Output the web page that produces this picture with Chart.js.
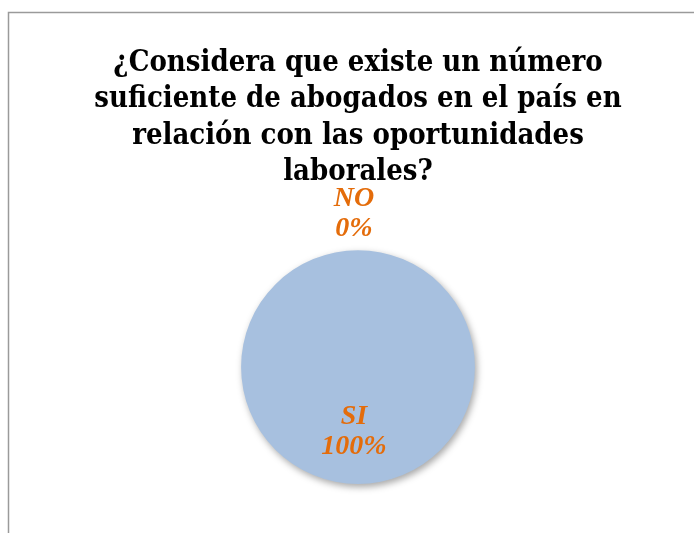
<!DOCTYPE html>
<html>
<head>
<meta charset="utf-8">
<script src="https://cdn.jsdelivr.net/npm/chart.js@4"></script>
<style>
  html, body { margin: 0; padding: 0; background: #fff; }
  #wrap { width: 694px; height: 533px; }
</style>
</head>
<body>
<div id="wrap"><canvas id="pieChart"></canvas></div>
<script>
const categories = ['SI', 'NO'];
const values = [100, 0];
const titleLines = [
  '¿Considera que existe un número',
  'suficiente de abogados en el país en',
  'relación con las oportunidades',
  'laborales?'
];

// gray frame on the left and top edges
const framePlugin = {
  id: 'frame',
  beforeDraw(chart) {
    const ctx = chart.ctx;
    ctx.save();
    ctx.strokeStyle = '#9a9a9a';
    ctx.lineWidth = 1.5;
    ctx.beginPath();
    ctx.moveTo(8.5, chart.height);
    ctx.lineTo(8.5, 12.5);
    ctx.lineTo(chart.width, 12.5);
    ctx.stroke();
    ctx.restore();
  }
};

// soft drop shadow under the pie
const shadowPlugin = {
  id: 'pieShadow',
  beforeDatasetsDraw(chart) {
    const ctx = chart.ctx;
    ctx.save();
    ctx.shadowColor = 'rgba(0,0,0,0.35)';
    ctx.shadowBlur = 7;
    ctx.shadowOffsetX = 2;
    ctx.shadowOffsetY = 3;
  },
  afterDatasetsDraw(chart) {
    chart.ctx.restore();
  }
};

// category name + percentage, inside for big slices, outside for empty ones
const labelPlugin = {
  id: 'sliceLabels',
  afterDatasetsDraw(chart) {
    const ctx = chart.ctx;
    const meta = chart.getDatasetMeta(0);
    const total = values.reduce((a, b) => a + b, 0);
    ctx.save();
    ctx.fillStyle = '#e46c0a';
    ctx.font = 'italic bold 28px "Liberation Serif", "DejaVu Serif", serif';
    ctx.textAlign = 'center';
    ctx.textBaseline = 'middle';
    meta.data.forEach((arc, i) => {
      const p = arc.getProps(['x', 'y', 'startAngle', 'endAngle', 'outerRadius'], true);
      const mid = (p.startAngle + p.endAngle) / 2;
      const k = values[i] > 0 ? 0.55 : 1.31;
      const cx = p.x + Math.cos(mid) * p.outerRadius * k - 4;
      const cy = p.y + Math.sin(mid) * p.outerRadius * k;
      const pct = Math.round(values[i] / total * 100) + '%';
      ctx.fillText(categories[i], cx, cy - 15);
      ctx.fillText(pct, cx, cy + 15);
    });
    ctx.restore();
  }
};

new Chart(document.getElementById('pieChart'), {
  type: 'pie',
  data: {
    labels: categories,
    datasets: [{
      data: values,
      backgroundColor: ['#a7c0df', '#c0504d'],
      borderWidth: 0
    }]
  },
  options: {
    responsive: true,
    maintainAspectRatio: false,
    animation: false,
    layout: { padding: { top: 0, left: 22, right: 0, bottom: 49 } },
    plugins: {
      legend: { display: false },
      tooltip: { enabled: false },
      title: {
        display: true,
        text: titleLines,
        color: '#000',
        font: { family: '"DejaVu Serif Condensed", "Liberation Serif", serif', size: 29, weight: 'bold', lineHeight: 1.26 },
        padding: { top: 45, bottom: 59 }
      }
    }
  },
  plugins: [framePlugin, shadowPlugin, labelPlugin]
});
</script>
</body>
</html>
